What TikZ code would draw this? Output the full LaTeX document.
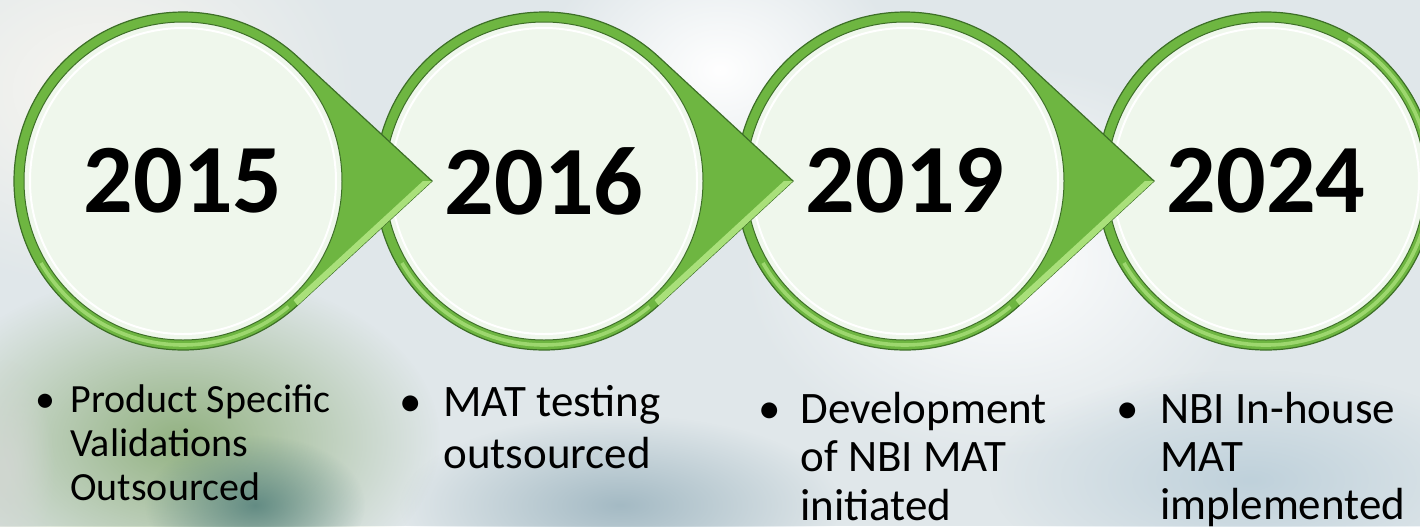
\documentclass[tikz,border=0pt]{standalone}
\usepackage{fontspec}
\setmainfont{Carlito}
\usetikzlibrary{calc,fadings}
\definecolor{bgbase}{HTML}{E0E7EA}
\definecolor{bgcream}{HTML}{F8F6F0}
\definecolor{bgleaf}{HTML}{93B282}
\definecolor{bgteal}{HTML}{4E7C78}
\definecolor{bgstone}{HTML}{D0D6D0}
\definecolor{bgsteel}{HTML}{A4BAC4}
\definecolor{bgsky}{HTML}{BFD1DB}
\definecolor{ringgreen}{HTML}{6EB641}
\definecolor{ringdark}{HTML}{3D6F27}
\definecolor{ringlight}{HTML}{A9E07A}
\definecolor{facefill}{HTML}{EFF7EC}
\tikzfading[name=blob, inner color=transparent!0, outer color=transparent!100]
\begin{document}
\begin{tikzpicture}[x=0.5pt,y=-0.5pt,
    ring/.style={fill=ringgreen,draw=ringdark,line width=0.6pt},
    bevel/.style={fill=ringlight},
    shine/.style={draw=ringlight,line width=1.8pt,opacity=0.8},
    face/.style={fill=facefill,draw=ringdark,line width=0.5pt},
    year/.style={inner sep=0pt,font=\fontsize{49}{49}\selectfont\bfseries},
    dot/.style={inner sep=0pt,anchor=base},
    note/.style={inner sep=0pt,anchor=base west}]
  % background
  \useasboundingbox (0,0) rectangle (1420,526);
  \fill[bgbase] (0,0) rectangle (1420,526);
  \fill[bgcream,path fading=blob] (100,90) ellipse (260 and 200);
  \fill[white,path fading=blob] (720,70) ellipse (180 and 140);
  \fill[white,path fading=blob] (1000,260) ellipse (260 and 200);
  \fill[bgleaf,path fading=blob] (180,440) ellipse (260 and 170);
  \fill[bgteal,path fading=blob,opacity=0.8] (255,505) ellipse (110 and 70);
  \fill[bgstone,path fading=blob] (5,470) ellipse (50 and 110);
  \fill[bgsteel,path fading=blob] (620,505) ellipse (220 and 90);
  \fill[bgsky,path fading=blob] (1250,480) ellipse (260 and 110);

  % centres and tips
  \coordinate (c1) at (183,181);
  \coordinate (c2) at (544,181);
  \coordinate (c3) at (905,181);
  \coordinate (c4) at (1266,181);
  \coordinate (tip1) at (432,181);
  \coordinate (tip2) at (793,181);
  \coordinate (tip3) at (1154,181);

  % 2024
  \draw[ring] (c4) circle (169);
  \draw[shine] ($(c4)+(-60:164)$) arc[start angle=-60,end angle=150,radius=164];
  \draw[face] (c4) circle (159);
  \draw[white,line width=1pt] (c4) circle (153);
  % 2019
  \draw[ring] (tip3) -- ($(c3)+(47.3:169)$) arc[start angle=47.3,end angle=312.7,radius=169] -- cycle;
  \fill[bevel] (tip3) -- ($(c3)+(47.3:169)$) -- ($(c3)+(47.3:169)+(-4,-5)$) -- ($(tip3)+(-9,0)$) -- cycle;
  \draw[shine] ($(c3)+(50:164)$) arc[start angle=50,end angle=150,radius=164];
  \draw[face] (c3) circle (159);
  \draw[white,line width=1pt] (c3) circle (153);
  % 2016
  \draw[ring] (tip2) -- ($(c2)+(47.3:169)$) arc[start angle=47.3,end angle=312.7,radius=169] -- cycle;
  \fill[bevel] (tip2) -- ($(c2)+(47.3:169)$) -- ($(c2)+(47.3:169)+(-4,-5)$) -- ($(tip2)+(-9,0)$) -- cycle;
  \draw[shine] ($(c2)+(50:164)$) arc[start angle=50,end angle=150,radius=164];
  \draw[face] (c2) circle (159);
  \draw[white,line width=1pt] (c2) circle (153);
  % 2015
  \draw[ring] (tip1) -- ($(c1)+(47.3:169)$) arc[start angle=47.3,end angle=312.7,radius=169] -- cycle;
  \fill[bevel] (tip1) -- ($(c1)+(47.3:169)$) -- ($(c1)+(47.3:169)+(-4,-5)$) -- ($(tip1)+(-9,0)$) -- cycle;
  \draw[shine] ($(c1)+(50:164)$) arc[start angle=50,end angle=150,radius=164];
  \draw[face] (c1) circle (159);
  \draw[white,line width=1pt] (c1) circle (153);

  % years
  \node[year] (y2015) at (c1) {2015};
  \node[year] (y2016) at (c2) {2016};
  \node[year] (y2019) at (c3) {2019};
  \node[year] (y2024) at (c4) {2024};

  % notes
  \node[dot,font=\fontsize{20}{22}\selectfont] (dot1) at (45,412) {\textbullet};
  \node[note,font=\fontsize{20}{22}\selectfont] (note1) at (70,412)
    {\begin{tabular}[t]{@{}l@{}}Product Specific\\Validations\\Outsourced\end{tabular}};
  \node[dot,font=\fontsize{22.5}{26}\selectfont] (dot2) at (411,416) {\textbullet};
  \node[note,font=\fontsize{22.5}{26}\selectfont] (note2) at (443,416)
    {\begin{tabular}[t]{@{}l@{}}MAT testing\\outsourced\end{tabular}};
  \node[dot,font=\fontsize{22.5}{24.3}\selectfont] (dot3) at (770,423) {\textbullet};
  \node[note,font=\fontsize{22.5}{24.3}\selectfont] (note3) at (800,423)
    {\begin{tabular}[t]{@{}l@{}}Development\\of NBI MAT\\initiated\end{tabular}};
  \node[dot,font=\fontsize{22.5}{24}\selectfont] (dot4) at (1128,423) {\textbullet};
  \node[note,font=\fontsize{22.5}{24}\selectfont] (note4) at (1160,423)
    {\begin{tabular}[t]{@{}l@{}}NBI In-house\\MAT\\implemented\end{tabular}};
\end{tikzpicture}
\end{document}
